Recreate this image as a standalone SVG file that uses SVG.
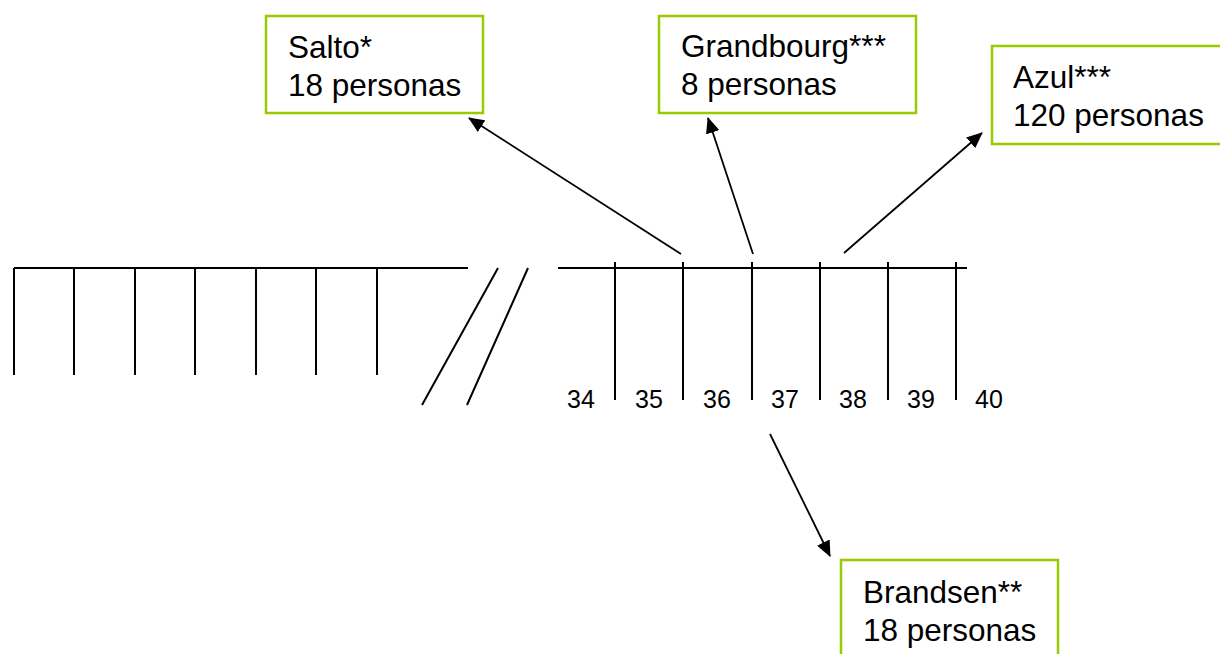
<svg xmlns="http://www.w3.org/2000/svg" width="1220" height="654" viewBox="0 0 1220 654">
<style>
.box{fill:#fff;stroke:#99CC00;stroke-width:2.5}
.t{font-family:"Liberation Sans",Arial,sans-serif;font-size:31.5px;fill:#000}
.n{font-family:"Liberation Sans",Arial,sans-serif;font-size:25px;fill:#000;text-anchor:middle}
.ln{stroke:#000;stroke-width:2;fill:none}
.ar{stroke:#000;stroke-width:1.8;fill:none;marker-end:url(#ah)}
</style>
<defs>
<marker id="ah" markerUnits="userSpaceOnUse" markerWidth="16" markerHeight="14" refX="15" refY="7" orient="auto">
<path d="M0,0 L16,7 L0,14 Z" fill="#000"/>
</marker>
</defs>
<rect width="1220" height="654" fill="#fff"/>
<g id="scale">
<path class="ln" d="M14,268 H468 M14,268 V375 M74,268 V375 M135,268 V375 M195,268 V375 M256,268 V375 M316,268 V375 M377,268 V375"/>
<path class="ln" d="M498,268 L422,405 M528,268 L467,405"/>
<path class="ln" d="M558,268 H967 M615,262 V400 M683,262 V400 M752,262 V400 M820,262 V400 M888,262 V400 M956,262 V400"/>
<text class="n" x="581" y="408">34</text>
<text class="n" x="649" y="408">35</text>
<text class="n" x="717" y="408">36</text>
<text class="n" x="785" y="408">37</text>
<text class="n" x="853" y="408">38</text>
<text class="n" x="921" y="408">39</text>
<text class="n" x="989" y="408">40</text>
</g>
<g id="connectors">
<line class="ar" x1="681" y1="254" x2="469" y2="118"/>
<line class="ar" x1="753" y1="254" x2="708" y2="118"/>
<line class="ar" x1="844" y1="253" x2="982" y2="133"/>
<line class="ar" x1="770" y1="434" x2="830" y2="556"/>
</g>
<g id="salto">
<rect class="box" x="266" y="16" width="217" height="97"/>
<text class="t" x="288" y="58">Salto*</text>
<text class="t" x="288" y="96">18 personas</text>
</g>
<g id="grandbourg">
<rect class="box" x="659" y="16" width="257" height="97"/>
<text class="t" x="681" y="57">Grandbourg***</text>
<text class="t" x="681" y="95">8 personas</text>
</g>
<g id="azul">
<rect class="box" x="992" y="46" width="232" height="98"/>
<text class="t" x="1013" y="88">Azul***</text>
<text class="t" x="1013" y="126">120 personas</text>
</g>
<g id="brandsen">
<rect class="box" x="841" y="560" width="217" height="98"/>
<text class="t" x="863" y="603">Brandsen**</text>
<text class="t" x="863" y="641">18 personas</text>
</g>
</svg>
